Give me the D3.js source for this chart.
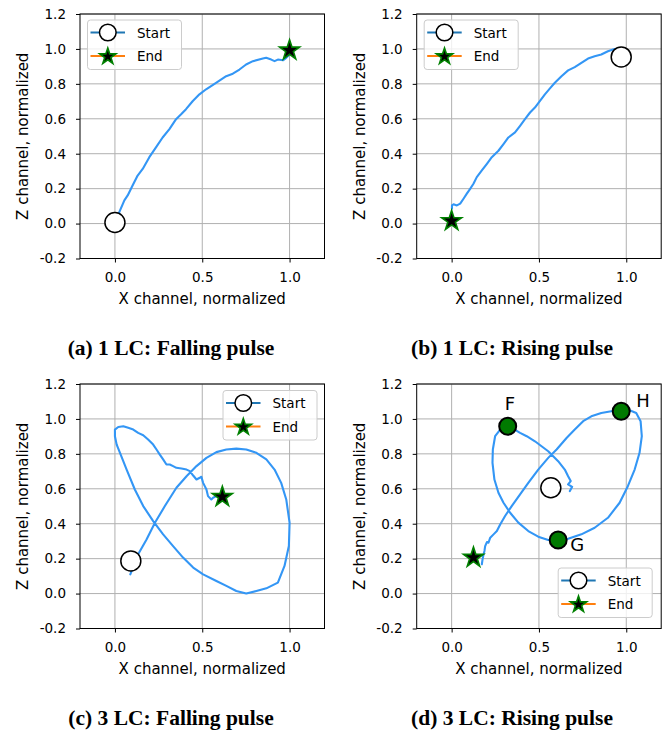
<!DOCTYPE html>
<html>
<head>
<meta charset="utf-8">
<script src="https://cdn.jsdelivr.net/npm/d3@7"></script>
<style>
  html, body { margin: 0; padding: 0; background: #fff; }
  svg { display: block; }
</style>
</head>
<body>
<svg id="chart" width="671" height="734"></svg>
<script>
// ---------------- DATA ----------------
const xTicks = [0.0, 0.5, 1.0];
const yTicks = [-0.2, 0.0, 0.2, 0.4, 0.6, 0.8, 1.0, 1.2];
const captions = ["(a) 1 LC: Falling pulse", "(b) 1 LC: Rising pulse", "(c) 3 LC: Falling pulse", "(d) 3 LC: Rising pulse"];
const legendLabels = ["Start", "End"];

// Panel (a) 1 LC falling pulse
const aX = [0.02, 0.025, 0.054, 0.073, 0.101, 0.130, 0.159, 0.197, 0.235, 0.273, 0.312, 0.350, 0.379, 0.407, 0.446, 0.484, 0.522, 0.579, 0.637, 0.675, 0.713, 0.751, 0.790, 0.847, 0.866, 0.895, 0.914, 0.933, 0.962, 0.981, 1.0];
const aZ = [0.04, 0.066, 0.133, 0.161, 0.218, 0.275, 0.313, 0.380, 0.436, 0.493, 0.541, 0.598, 0.626, 0.655, 0.702, 0.740, 0.769, 0.806, 0.844, 0.858, 0.882, 0.911, 0.930, 0.945, 0.949, 0.939, 0.930, 0.939, 0.935, 0.949, 0.968];
const aStart = [0.0, 0.006];
const aEnd = [1.0, 0.992];

// Panel (b) 1 LC rising pulse
const bX = [0.96, 0.933, 0.895, 0.857, 0.819, 0.781, 0.743, 0.705, 0.667, 0.629, 0.591, 0.563, 0.534, 0.506, 0.477, 0.449, 0.420, 0.392, 0.363, 0.325, 0.297, 0.268, 0.230, 0.202, 0.173, 0.144, 0.125, 0.106, 0.087, 0.068, 0.049, 0.030, 0.011, 0.002, 0.002];
const bZ = [0.985, 1.0, 0.987, 0.968, 0.958, 0.945, 0.920, 0.896, 0.877, 0.844, 0.806, 0.774, 0.740, 0.702, 0.664, 0.636, 0.598, 0.560, 0.522, 0.493, 0.455, 0.417, 0.380, 0.342, 0.304, 0.266, 0.228, 0.199, 0.171, 0.142, 0.114, 0.104, 0.110, 0.104, 0.085];
const bStart = [0.971, 0.954];
const bEnd = [0.0, 0.015];

// Panel (c) 3 LC falling pulse
const cX = [0.088, 0.133, 0.181, 0.229, 0.286, 0.352, 0.410, 0.467, 0.524, 0.581, 0.638, 0.695, 0.752, 0.810, 0.867, 0.914, 0.952, 0.981, 1.0, 0.996, 0.971, 0.933, 0.867, 0.810, 0.752, 0.695, 0.638, 0.581, 0.505, 0.448, 0.390, 0.333, 0.276, 0.219, 0.162, 0.114, 0.067, 0.029, 0.010, 0.0, 0.0, 0.019, 0.048, 0.076, 0.105, 0.133, 0.162, 0.190, 0.219, 0.238, 0.257, 0.276, 0.295, 0.314, 0.333, 0.352, 0.381, 0.410, 0.429, 0.448, 0.467, 0.486, 0.495, 0.505, 0.524, 0.533, 0.552, 0.562, 0.581, 0.600];
const cZ = [0.11, 0.225, 0.310, 0.406, 0.501, 0.606, 0.672, 0.730, 0.777, 0.810, 0.825, 0.830, 0.825, 0.806, 0.768, 0.710, 0.634, 0.539, 0.406, 0.272, 0.158, 0.063, 0.030, 0.015, 0.0, 0.015, 0.044, 0.072, 0.110, 0.149, 0.206, 0.272, 0.339, 0.415, 0.501, 0.596, 0.710, 0.806, 0.853, 0.901, 0.939, 0.954, 0.958, 0.949, 0.939, 0.920, 0.907, 0.882, 0.853, 0.825, 0.796, 0.768, 0.739, 0.739, 0.730, 0.720, 0.716, 0.710, 0.701, 0.676, 0.653, 0.663, 0.669, 0.634, 0.596, 0.558, 0.539, 0.549, 0.558, 0.549];
const cStart = [0.091, 0.187];
const cEnd = [0.615, 0.554];

// Panel (d) 3 LC rising pulse
const dX = [0.677, 0.690, 0.667, 0.682, 0.667, 0.648, 0.610, 0.553, 0.477, 0.430, 0.392, 0.344, 0.321, 0.278, 0.249, 0.236, 0.234, 0.245, 0.268, 0.297, 0.335, 0.382, 0.439, 0.496, 0.553, 0.610, 0.667, 0.743, 0.819, 0.895, 0.962, 1.009, 1.048, 1.076, 1.089, 1.082, 1.057, 1.019, 0.971, 0.914, 0.857, 0.800, 0.753, 0.705, 0.658, 0.601, 0.553, 0.496, 0.439, 0.392, 0.344, 0.306, 0.278, 0.259, 0.240, 0.221, 0.211, 0.202, 0.192, 0.188, 0.183, 0.177, 0.173];
const dZ = [0.587, 0.611, 0.625, 0.644, 0.672, 0.710, 0.758, 0.815, 0.872, 0.901, 0.920, 0.949, 0.958, 0.939, 0.901, 0.825, 0.749, 0.653, 0.577, 0.520, 0.463, 0.406, 0.358, 0.326, 0.307, 0.307, 0.314, 0.339, 0.377, 0.434, 0.520, 0.615, 0.710, 0.806, 0.901, 0.987, 1.034, 1.050, 1.044, 1.044, 1.034, 1.015, 0.987, 0.939, 0.891, 0.825, 0.777, 0.710, 0.634, 0.568, 0.501, 0.444, 0.396, 0.358, 0.339, 0.320, 0.291, 0.295, 0.272, 0.244, 0.225, 0.196, 0.168];
const dStart = [0.568, 0.606];
const dEnd = [0.125, 0.206];
const dKeyNames = ["F", "G", "H"];
const dKeyX = [0.321, 0.610, 0.971];
const dKeyZ = [0.958, 0.307, 1.044];

// ---------------- DRAWING ----------------
const svg = d3.select("#chart");
const W = 244.5, H = 244.5;
const TRACE = "#3396f5";

function starPath(R) {
  const r = R * 0.381966;
  const pts = [];
  for (let i = 0; i < 10; i++) {
    const ang = -Math.PI / 2 + i * Math.PI / 5;
    const rad = i % 2 === 0 ? R : r;
    pts.push([rad * Math.cos(ang), rad * Math.sin(ang)]);
  }
  return "M" + pts.map(p => p[0].toFixed(2) + "," + p[1].toFixed(2)).join("L") + "Z";
}

function drawPanel(cfg) {
  const g = svg.append("g").attr("transform", `translate(${cfg.left},${cfg.top})`);
  const x = d3.scaleLinear().domain([-0.2, 1.2]).range([0, W]);
  const y = d3.scaleLinear().domain([-0.2, 1.2]).range([H, 0]);

  // grid
  g.append("g").selectAll("line").data(xTicks).join("line")
    .attr("x1", d => x(d)).attr("x2", d => x(d)).attr("y1", 0).attr("y2", H)
    .attr("stroke", "#b0b0b0").attr("stroke-width", 1);
  g.append("g").selectAll("line").data(yTicks).join("line")
    .attr("y1", d => y(d)).attr("y2", d => y(d)).attr("x1", 0).attr("x2", W)
    .attr("stroke", "#b0b0b0").attr("stroke-width", 1);

  // axes
  const fmt = d => d.toFixed(1).replace("\u2212", "-");
  const xa = g.append("g").attr("transform", `translate(0,${H})`)
    .call(d3.axisBottom(x).tickValues(xTicks).tickFormat(fmt).tickSize(4).tickPadding(10));
  const ya = g.append("g")
    .call(d3.axisLeft(y).tickValues(yTicks).tickFormat(fmt).tickSize(4).tickPadding(10));
  [xa, ya].forEach(a => {
    a.select(".domain").remove();
    a.selectAll("line").attr("stroke", "#000").attr("stroke-width", 1);
    a.selectAll("text").attr("font-family", "'DejaVu Sans', sans-serif")
      .attr("font-size", "13.5px").attr("fill", "#000");
  });

  // trace
  const pts = cfg.xs.map((v, i) => [v, cfg.zs[i]]);
  g.append("path").datum(pts)
    .attr("d", d3.line().x(d => x(d[0])).y(d => y(d[1])))
    .attr("fill", "none").attr("stroke", TRACE).attr("stroke-width", 2.1)
    .attr("stroke-linejoin", "round").attr("stroke-linecap", "round");

  // frame
  g.append("rect").attr("x", 0).attr("y", 0).attr("width", W).attr("height", H)
    .attr("fill", "none").attr("stroke", "#000").attr("stroke-width", 1);

  // key points
  if (cfg.keys) {
    cfg.keys.names.forEach((nm, i) => {
      const px = x(cfg.keys.xs[i]), py = y(cfg.keys.zs[i]);
      g.append("circle").attr("cx", px).attr("cy", py).attr("r", 8.5)
        .attr("fill", "#007a00").attr("stroke", "#000").attr("stroke-width", 2);
      const off = cfg.keys.offsets[i];
      g.append("text").attr("x", px + off[0]).attr("y", py + off[1]).text(nm)
        .attr("font-family", "'DejaVu Sans', sans-serif").attr("font-size", "18px").attr("fill", "#000");
    });
  }

  // start / end markers
  g.append("circle").attr("cx", x(cfg.start[0])).attr("cy", y(cfg.start[1])).attr("r", 10)
    .attr("fill", "#fff").attr("stroke", "#000").attr("stroke-width", 1.5);
  g.append("path").attr("d", starPath(10.5))
    .attr("transform", `translate(${x(cfg.end[0])},${y(cfg.end[1])})`)
    .attr("fill", "#000").attr("stroke", "#008000").attr("stroke-width", 1.6).attr("stroke-linejoin", "miter");

  // axis labels
  g.append("text").attr("x", W / 2).attr("y", H + 45).attr("text-anchor", "middle")
    .attr("font-family", "'DejaVu Sans', sans-serif").attr("font-size", "15px").text("X channel, normalized");
  g.append("text").attr("transform", `translate(-52,${H / 2}) rotate(-90)`).attr("text-anchor", "middle")
    .attr("font-family", "'DejaVu Sans', sans-serif").attr("font-size", "15px").text("Z channel, normalized");

  // legend
  const LW = 94, LH = 49.5;
  let lx, ly;
  if (cfg.legend === "ul") { lx = 7.5; ly = 6; }
  else if (cfg.legend === "ur") { lx = W - 7.5 - LW; ly = 6.5; }
  else { lx = W - 9 - LW; ly = H - 11 - LH; }
  const lg = g.append("g").attr("transform", `translate(${lx},${ly})`);
  lg.append("rect").attr("width", LW).attr("height", LH).attr("rx", 3)
    .attr("fill", "#fff").attr("fill-opacity", 0.8).attr("stroke", "#cccccc").attr("stroke-width", 1);
  const rows = [12.5, 36];
  const handleColors = ["#1f77b4", "#ff7f0e"];
  rows.forEach((ry, i) => {
    lg.append("line").attr("x1", 3).attr("x2", 37.5).attr("y1", ry).attr("y2", ry)
      .attr("stroke", handleColors[i]).attr("stroke-width", 2);
    if (i === 0) {
      lg.append("circle").attr("cx", 20.3).attr("cy", ry).attr("r", 8.3)
        .attr("fill", "#fff").attr("stroke", "#000").attr("stroke-width", 1.5);
    } else {
      lg.append("path").attr("d", starPath(8.5)).attr("transform", `translate(20.3,${ry + 0.5})`)
        .attr("fill", "#000").attr("stroke", "#008000").attr("stroke-width", 1.6);
    }
    lg.append("text").attr("x", 49.5).attr("y", ry + 5).text(legendLabels[i])
      .attr("font-family", "'DejaVu Sans', sans-serif").attr("font-size", "13.5px").attr("fill", "#000");
  });

  // caption
  svg.append("text").attr("x", cfg.capX).attr("y", cfg.capY).attr("text-anchor", "middle")
    .attr("font-family", "'Liberation Serif', serif").attr("font-weight", "bold")
    .attr("font-size", "21.5px").text(cfg.caption);
}

drawPanel({ left: 80, top: 14, xs: aX, zs: aZ, start: aStart, end: aEnd, legend: "ul", caption: captions[0], capX: 171, capY: 355 });
drawPanel({ left: 416.7, top: 14, xs: bX, zs: bZ, start: bStart, end: bEnd, legend: "ul", caption: captions[1], capX: 512, capY: 355 });
drawPanel({ left: 80, top: 384, xs: cX, zs: cZ, start: cStart, end: cEnd, legend: "ur", caption: captions[2], capX: 171, capY: 725 });
drawPanel({ left: 416.7, top: 384, xs: dX, zs: dZ, start: dStart, end: dEnd, legend: "lr", caption: captions[3], capX: 512, capY: 725,
  keys: { names: dKeyNames, xs: dKeyX, zs: dKeyZ, offsets: [[-3, -16], [12, 11], [15, -4]] } });
</script>
</body>
</html>
